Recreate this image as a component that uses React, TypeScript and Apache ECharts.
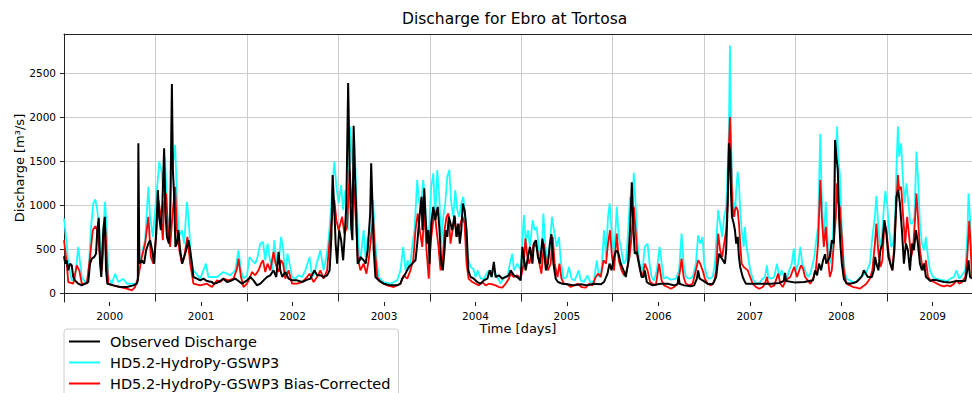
import React, { useEffect, useRef } from "react";
import * as echarts from "echarts";

// Daily discharge (m³/s); first number = day since 2000-01-01
const observed: [number, number][] = [
  [0,422],[5,338],[11,376],[17,262],[24,338],[31,319],[37,186],[44,148],[57,110],[71,91],[84,110],[97,129],[104,338],[111,395],[121,414],[128,452],[133,718],[139,859],[144,338],[149,186],[157,718],[163,870],[168,262],[173,110],[197,91],[224,72],[251,72],[277,91],[291,110],[295,150],[297,1706],[301,338],[311,376],[320,338],[328,490],[337,566],[344,604],[352,490],[360,338],[368,680],[375,1174],[380,870],[387,718],[393,1022],[400,1649],[405,946],[411,642],[419,566],[424,794],[431,2379],[435,1402],[440,1098],[445,528],[451,566],[457,718],[464,490],[472,338],[480,414],[488,490],[497,604],[504,490],[511,338],[517,186],[531,167],[544,148],[557,167],[571,141],[591,129],
  [597,110],[611,118],[624,141],[637,167],[651,129],[664,141],[684,167],[697,141],[711,110],[731,148],[744,186],[757,148],[771,91],[784,110],[797,148],[811,186],[824,205],[837,262],[848,186],[857,471],[864,262],[872,186],[884,243],[897,167],[911,148],[931,148],[951,129],[971,156],[984,167],[1000,262],[1011,205],[1024,205],[1037,186],[1051,205],[1061,262],[1068,642],[1073,1345],[1080,946],[1085,566],[1091,338],[1099,718],[1107,604],[1115,376],[1121,642],[1128,1022],[1135,2390],[1141,1402],[1147,756],[1152,604],[1157,1904],[1163,1288],[1168,870],[1173,338],[1181,376],
  [1184,414],[1197,376],[1205,338],[1213,490],[1223,900],[1227,1478],[1232,1022],[1237,500],[1244,186],[1257,148],[1277,110],[1304,91],[1331,91],[1344,110],[1351,167],[1364,224],[1377,300],[1391,338],[1404,376],[1411,566],[1420,870],[1428,1098],[1432,718],[1439,1193],[1444,870],[1451,566],[1456,718],[1460,338],[1467,794],[1475,984],[1483,832],[1493,984],[1500,718],[1507,338],[1513,262],[1520,490],[1525,718],[1531,642],[1537,870],[1544,794],[1551,718],[1560,885],[1568,642],[1575,794],[1581,566],[1587,718],[1593,1022],[1600,946],[1608,718],[1615,262],[1624,186],[1637,167],[1651,129],[1664,110],[1677,148],[1691,167],[1701,262],[1708,186],[1717,357],[1724,186],[1737,205],[1751,167],[1764,186],[1777,205],
  [1784,262],[1797,205],[1811,186],[1824,148],[1831,528],[1837,400],[1844,262],[1851,376],[1861,528],[1871,338],[1877,566],[1885,604],[1893,414],[1901,338],[1911,623],[1917,490],[1925,262],[1933,338],[1941,566],[1947,673],[1955,338],[1964,167],[1973,129],[1991,110],[2011,103],[2037,91],[2064,103],[2091,91],[2117,110],[2144,103],[2157,129],[2171,224],[2179,338],[2187,262],[2197,414],[2205,483],[2213,471],[2224,338],[2235,262],[2244,186],[2253,338],[2261,718],[2268,1262],[2275,718],[2280,452],[2288,471],[2297,338],[2307,186],[2315,186],[2320,262],[2328,129],[2337,110],[2351,91],[2371,103],
  [2384,110],[2411,110],[2437,91],[2451,103],[2455,194],[2459,110],[2477,91],[2504,80],[2517,91],[2528,167],[2533,262],[2539,167],[2551,148],[2571,110],[2591,103],[2605,186],[2611,338],[2617,452],[2624,414],[2632,376],[2640,338],[2645,490],[2651,1022],[2656,1706],[2660,1623],[2664,1174],[2668,870],[2675,794],[2680,718],[2685,566],[2691,642],[2696,414],[2701,300],[2711,186],[2717,148],[2724,110],[2744,110],[2784,110],[2824,110],[2857,118],[2875,141],[2880,232],[2884,141],[2917,125],[2957,129],
  [2992,148],[3000,262],[3008,205],[3016,338],[3024,262],[3032,376],[3040,445],[3045,338],[3052,376],[3059,414],[3067,604],[3075,566],[3080,1744],[3085,1554],[3091,1402],[3096,870],[3101,566],[3107,338],[3115,167],[3125,118],[3139,110],[3152,118],[3165,129],[3179,167],[3187,194],[3195,262],[3203,224],[3211,186],[3219,186],[3227,186],[3235,262],[3240,414],[3245,338],[3253,262],[3261,490],[3269,566],[3277,832],[3285,680],[3293,414],[3301,338],[3309,262],[3317,490],[3325,1098],[3332,1174],[3339,1022],[3347,718],[3355,338],[3363,566],[3371,490],[3379,262],[3387,566],[3395,490],[3403,718],[3411,566],[3419,338],[3427,262],[3435,338],[3443,186],[3451,167],[3461,141],[3472,156],[3488,148],[3515,129],[3541,125],[3565,141],[3587,141],[3600,141],[3608,262],[3613,376],[3619,186],[3632,167]
];

const hydroPy: [number, number][] = [
  [0,851],[11,566],[17,338],[31,148],[44,167],[57,528],[71,186],[84,129],[97,167],[107,718],[117,1022],[125,1068],[133,946],[141,718],[147,338],[155,600],[164,1041],[171,718],[177,186],[191,110],[204,224],[217,129],[237,167],[251,110],[271,110],[291,110],[304,338],[317,528],[324,600],[337,1212],[344,870],[355,642],[371,1174],[381,1497],[391,1364],[397,1098],[404,1535],[413,870],[421,718],[428,1288],[444,1687],[451,1098],[459,642],[471,718],[480,566],[491,1041],[497,870],[507,414],[517,262],[544,167],[567,338],[577,186],
  [611,186],[637,243],[664,205],[684,262],[697,490],[707,262],[717,167],[731,205],[741,414],[751,376],[764,338],[773,414],[784,566],[795,585],[804,376],[813,566],[821,414],[831,262],[840,604],[848,376],[857,338],[867,642],[875,528],[883,186],[893,452],[901,338],[911,186],[924,167],[937,205],[951,186],[964,262],[981,414],[991,186],[1000,224],[1011,357],[1024,490],[1037,262],[1048,414],[1057,604],[1064,870],[1072,1212],[1080,1497],[1088,1212],[1097,1022],[1107,1231],[1115,946],[1124,1174],[1133,718],[1144,1896],[1152,1478],[1160,1744],[1168,1098],[1177,528],
  [1184,376],[1197,718],[1204,414],[1213,642],[1224,566],[1235,1060],[1240,718],[1248,414],[1257,186],[1277,129],[1304,110],[1331,148],[1344,262],[1355,528],[1364,262],[1373,376],[1381,262],[1391,528],[1400,718],[1411,1288],[1419,1022],[1427,1022],[1435,1288],[1443,984],[1451,566],[1459,756],[1467,1212],[1475,1364],[1483,870],[1491,1402],[1499,1098],[1507,566],[1515,870],[1523,1022],[1531,1326],[1539,1402],[1547,1022],[1555,870],[1563,1174],[1571,946],[1579,870],[1587,1022],[1595,1098],[1603,870],[1608,642],[1613,414],[1624,300],[1635,281],[1644,186],[1653,262],[1664,167],[1677,167],[1697,262],[1707,186],[1717,262],[1731,186],[1744,110],[1757,186],[1771,186],[1781,338],
  [1791,452],[1797,262],[1811,338],[1824,262],[1837,889],[1845,566],[1853,718],[1861,528],[1872,832],[1880,718],[1888,756],[1899,452],[1907,338],[1915,908],[1923,528],[1931,338],[1941,566],[1949,870],[1957,718],[1968,528],[1977,642],[1984,376],[1995,167],[2008,186],[2017,300],[2027,167],[2040,148],[2056,262],[2064,148],[2077,129],[2091,205],[2104,110],[2117,148],[2128,376],[2137,186],[2147,262],[2157,718],[2165,414],[2173,870],[2180,1022],[2187,718],[2197,414],[2208,984],[2216,642],[2224,528],[2235,338],[2245,376],[2253,680],[2261,1098],[2269,870],[2276,1372],[2283,1022],[2291,566],[2299,338],[2311,262],[2320,528],[2331,566],[2339,338],[2347,186],[2357,148],[2368,262],[2379,528],
  [2395,167],[2404,186],[2424,156],[2444,167],[2457,262],[2467,680],[2475,338],[2484,186],[2497,167],[2511,186],[2524,338],[2533,661],[2541,566],[2551,642],[2557,338],[2568,186],[2577,167],[2591,186],[2600,338],[2608,718],[2613,946],[2621,794],[2629,642],[2637,870],[2645,984],[2651,1402],[2656,1858],[2660,2816],[2664,1858],[2669,1212],[2675,1022],[2680,870],[2685,1174],[2691,1383],[2696,1250],[2701,946],[2707,718],[2715,528],[2720,756],[2725,566],[2733,414],[2741,262],[2751,167],[2764,110],[2777,118],[2791,167],[2800,186],[2808,319],[2813,186],[2824,167],[2837,186],[2848,338],[2857,186],[2867,262],[2877,186],[2888,179],[2897,262],[2907,338],[2915,509],[2923,262],[2933,338],[2941,528],[2949,338],[2960,262],[2971,186],[2981,224],[2991,338],
  [2997,414],[3003,566],[3012,756],[3021,1813],[3027,1098],[3035,642],[3043,1041],[3051,566],[3059,338],[3067,414],[3075,870],[3081,1402],[3088,1896],[3092,1554],[3099,1364],[3107,718],[3115,338],[3125,167],[3139,148],[3152,129],[3165,129],[3179,186],[3192,205],[3205,243],[3219,338],[3229,642],[3239,870],[3245,1110],[3252,794],[3259,528],[3267,642],[3275,984],[3281,1163],[3288,1022],[3296,718],[3304,528],[3312,566],[3320,870],[3325,1402],[3331,1896],[3336,1554],[3344,1706],[3349,1402],[3357,1022],[3365,1250],[3373,1022],[3381,794],[3389,794],[3397,870],[3405,1611],[3411,1326],[3419,794],[3427,566],[3435,490],[3443,642],[3451,414],[3459,262],[3472,186],[3485,167],[3499,156],[3515,148],[3528,141],[3541,167],[3555,186],[3565,262],[3576,167],[3587,205],[3600,262],[3608,642],[3613,1136],[3619,870],[3625,338],[3632,262]
];

const biasCorrected: [number, number][] = [
  [0,604],[11,338],[17,129],[37,110],[51,319],[61,262],[71,110],[91,110],[104,414],[115,718],[125,764],[133,718],[141,490],[151,262],[164,794],[171,414],[177,110],[197,91],[224,72],[251,53],[271,34],[284,72],[297,186],[311,414],[324,566],[337,870],[347,414],[357,338],[368,642],[377,1060],[387,870],[395,604],[400,1022],[408,1136],[417,642],[424,528],[435,946],[444,1212],[451,718],[461,490],[471,338],[480,414],[493,642],[504,338],[517,110],[544,91],[571,110],[591,72],
  [611,148],[624,129],[637,167],[657,148],[677,167],[691,281],[697,395],[707,186],[717,72],[731,110],[741,167],[751,243],[764,205],[777,262],[787,338],[795,376],[804,243],[813,338],[824,262],[837,471],[845,338],[857,243],[867,376],[875,338],[884,167],[897,262],[911,110],[931,110],[951,129],[971,186],[981,224],[997,129],[1011,186],[1024,262],[1037,167],[1051,262],[1061,604],[1071,870],[1080,1060],[1088,832],[1097,718],[1111,870],[1120,680],[1131,756],[1141,1402],[1149,1022],[1157,1250],[1165,870],[1173,414],
  [1184,262],[1197,338],[1208,224],[1217,376],[1227,642],[1235,870],[1240,566],[1251,186],[1264,129],[1291,91],[1317,72],[1344,110],[1357,205],[1371,167],[1384,262],[1395,376],[1404,718],[1413,908],[1421,718],[1431,528],[1440,946],[1448,490],[1457,167],[1464,566],[1472,756],[1480,946],[1488,718],[1496,528],[1504,262],[1512,338],[1520,718],[1528,870],[1536,908],[1544,566],[1552,718],[1560,870],[1568,642],[1576,718],[1584,794],[1592,870],[1600,794],[1608,338],[1616,167],[1631,129],[1644,110],[1657,91],[1671,129],[1684,91],[1697,110],[1711,103],[1724,91],[1737,72],[1751,65],[1764,110],[1777,167],
  [1784,224],[1797,186],[1811,205],[1824,167],[1837,338],[1843,623],[1851,414],[1859,338],[1867,452],[1877,566],[1888,528],[1899,338],[1907,224],[1917,566],[1925,376],[1933,262],[1944,338],[1952,642],[1960,338],[1971,186],[1979,338],[1987,167],[1997,110],[2011,103],[2024,72],[2037,91],[2051,110],[2067,72],[2084,65],[2097,110],[2111,91],[2124,186],[2133,224],[2144,186],[2155,376],[2165,338],[2173,566],[2181,718],[2189,414],[2197,262],[2208,680],[2216,376],[2227,262],[2237,205],[2248,262],[2259,414],[2267,642],[2276,984],[2283,718],[2291,414],[2301,262],[2311,186],[2320,338],[2331,262],[2341,129],[2351,110],[2364,91],[2377,338],
  [2387,148],[2397,91],[2411,72],[2424,53],[2437,72],[2451,110],[2461,262],[2467,395],[2475,186],[2484,110],[2497,91],[2511,110],[2524,262],[2533,376],[2541,338],[2551,262],[2560,167],[2571,110],[2584,91],[2597,129],[2605,262],[2613,680],[2621,490],[2629,414],[2637,566],[2645,718],[2651,1022],[2656,1668],[2660,2003],[2664,1630],[2669,1022],[2675,870],[2680,946],[2685,984],[2691,946],[2696,794],[2701,566],[2707,338],[2715,300],[2723,281],[2731,262],[2741,186],[2751,110],[2764,72],[2777,53],[2791,72],[2800,110],[2808,186],[2813,110],[2824,72],[2837,91],[2848,186],[2853,224],[2861,110],[2871,72],[2880,129],[2891,167],[2901,186],[2911,262],[2917,300],[2928,186],[2937,262],[2944,319],[2952,281],[2960,186],[2971,148],[2981,110],[2992,167],
  [3003,262],[3012,566],[3021,1288],[3027,870],[3035,528],[3043,756],[3051,414],[3059,186],[3067,262],[3075,566],[3083,870],[3088,1250],[3093,1022],[3099,984],[3107,642],[3115,262],[3125,110],[3139,91],[3152,72],[3165,65],[3179,53],[3192,80],[3205,110],[3219,167],[3229,262],[3239,566],[3245,794],[3252,490],[3261,300],[3269,376],[3277,794],[3285,718],[3293,490],[3301,338],[3309,262],[3317,566],[3325,1022],[3331,1345],[3336,1174],[3344,1212],[3352,870],[3360,566],[3368,870],[3376,642],[3384,414],[3392,528],[3400,870],[3405,1136],[3411,870],[3419,490],[3427,338],[3435,262],[3443,376],[3451,186],[3461,148],[3475,129],[3488,110],[3501,91],[3515,80],[3528,91],[3541,80],[3555,110],[3565,148],[3576,110],[3587,129],[3600,186],[3608,414],[3616,825],[3621,566],[3627,186],[3632,148]
];

const seriesNames = [
  "Observed Discharge",
  "HD5.2-HydroPy-GSWP3",
  "HD5.2-HydroPy-GSWP3 Bias-Corrected",
];
const yTicks = [0, 500, 1000, 1500, 2000, 2500];
const yearTicks = [2000, 2001, 2002, 2003, 2004, 2005, 2006, 2007, 2008, 2009];
const yearLabelPos = [2000.5, 2001.5, 2002.5, 2003.5, 2004.5, 2005.5, 2006.5, 2007.5, 2008.5, 2009.5];
const START_YEAR = 2000;
const X_MIN = 2000;
const X_MAX = 2009.93;
const Y_MIN = -98;
const Y_MAX = 2948;

const FONT = "DejaVu Sans";

function toYears(arr: [number, number][]) {
  return arr.map(([d, v]) => [START_YEAR + d / 365.25, v]);
}

export default function App() {
  const ref = useRef<HTMLDivElement>(null);
  useEffect(() => {
    if (!ref.current) return;
    const chart = echarts.init(ref.current, undefined, { renderer: "svg" });
    const axisLineStyle = { color: "#222", width: 1 };
    const gridLine = { show: true, lineStyle: { color: "#cccccc", width: 1 } };
    chart.setOption({
      animation: false,
      textStyle: { fontFamily: FONT },
      title: {
        text: "Discharge for Ebro at Tortosa",
        left: 402,
        top: 11,
        padding: 0,
        textStyle: { fontSize: 15.5, fontWeight: "normal", color: "#000", fontFamily: FONT },
      },
      legend: {
        data: seriesNames,
        orient: "vertical",
        left: 64,
        top: 329,
        height: 100,
        icon: "rect",
        itemWidth: 31,
        itemHeight: 2,
        itemGap: 4,
        padding: [4, 8, 4, 5],
        borderColor: "#cccccc",
        borderWidth: 1,
        borderRadius: 3,
        backgroundColor: "rgba(255,255,255,0.8)",
        selectedMode: false,
        textStyle: { fontSize: 14.5, color: "#000", fontFamily: FONT, lineHeight: 17, padding: [0, 0, 0, 5] },
      },
      grid: { left: 64, right: 0, top: 34, bottom: 91, containLabel: false, outerBoundsMode: "none" },
      xAxis: [
        {
          type: "value",
          min: X_MIN,
          max: X_MAX,
          position: "bottom",
          axisLine: { show: true, lineStyle: axisLineStyle },
          axisTick: { show: true, length: 8, customValues: yearTicks, lineStyle: axisLineStyle },
          axisLabel: { show: false },
          splitLine: gridLine,
          name: "Time [days]",
          nameLocation: "middle",
          nameGap: 20,
          nameMoveOverlap: false,
          nameTextStyle: { fontSize: 13, color: "#000", fontFamily: FONT },
        },
        {
          type: "value",
          min: X_MIN,
          max: X_MAX,
          position: "bottom",
          axisLine: { show: false },
          axisTick: { show: true, length: 4, customValues: yearLabelPos, lineStyle: axisLineStyle },
          axisLabel: {
            show: true,
            customValues: yearLabelPos,
            formatter: (v: number) => String(Math.floor(v)),
            margin: 8,
            fontSize: 10.5,
            color: "#000",
            fontFamily: FONT,
          },
          splitLine: { show: false },
        },
        {
          type: "value",
          min: X_MIN,
          max: X_MAX,
          position: "top",
          axisLine: { show: true, lineStyle: axisLineStyle },
          axisTick: { show: false },
          axisLabel: { show: false },
          splitLine: { show: false },
        },
      ],
      yAxis: {
        type: "value",
        min: Y_MIN,
        max: Y_MAX,
        axisLine: { show: true, lineStyle: axisLineStyle },
        axisTick: { show: true, length: 4, customValues: yTicks, lineStyle: axisLineStyle },
        axisLabel: {
          customValues: yTicks,
          formatter: (v: number) => String(v),
          fontSize: 10.5,
          margin: 8,
          color: "#000",
          fontFamily: FONT,
        },
        splitLine: gridLine,
        name: "Discharge [m³/s]",
        nameLocation: "middle",
        nameGap: 38,
        nameMoveOverlap: false,
        nameRotate: 90,
        nameTextStyle: { fontSize: 13, color: "#000", fontFamily: FONT },
      },
      series: [
        {
          name: seriesNames[1],
          type: "line",
          data: toYears(hydroPy),
          showSymbol: false,
          symbol: "none",
          color: "#1affff",
          lineStyle: { width: 1.8, color: "#1affff" },
          xAxisIndex: 0,
        },
        {
          name: seriesNames[2],
          type: "line",
          data: toYears(biasCorrected),
          showSymbol: false,
          symbol: "none",
          color: "#ff0000",
          lineStyle: { width: 1.8, color: "#ff0000" },
          xAxisIndex: 0,
        },
        {
          name: seriesNames[0],
          type: "line",
          data: toYears(observed),
          showSymbol: false,
          symbol: "none",
          color: "#000000",
          lineStyle: { width: 2, color: "#000000" },
          xAxisIndex: 0,
        },
      ],
    });
    return () => chart.dispose();
  }, []);
  return (
    <div
      ref={ref}
      style={{ position: "fixed", left: 0, top: 0, width: 972, height: 393, background: "#fff" }}
    />
  );
}
